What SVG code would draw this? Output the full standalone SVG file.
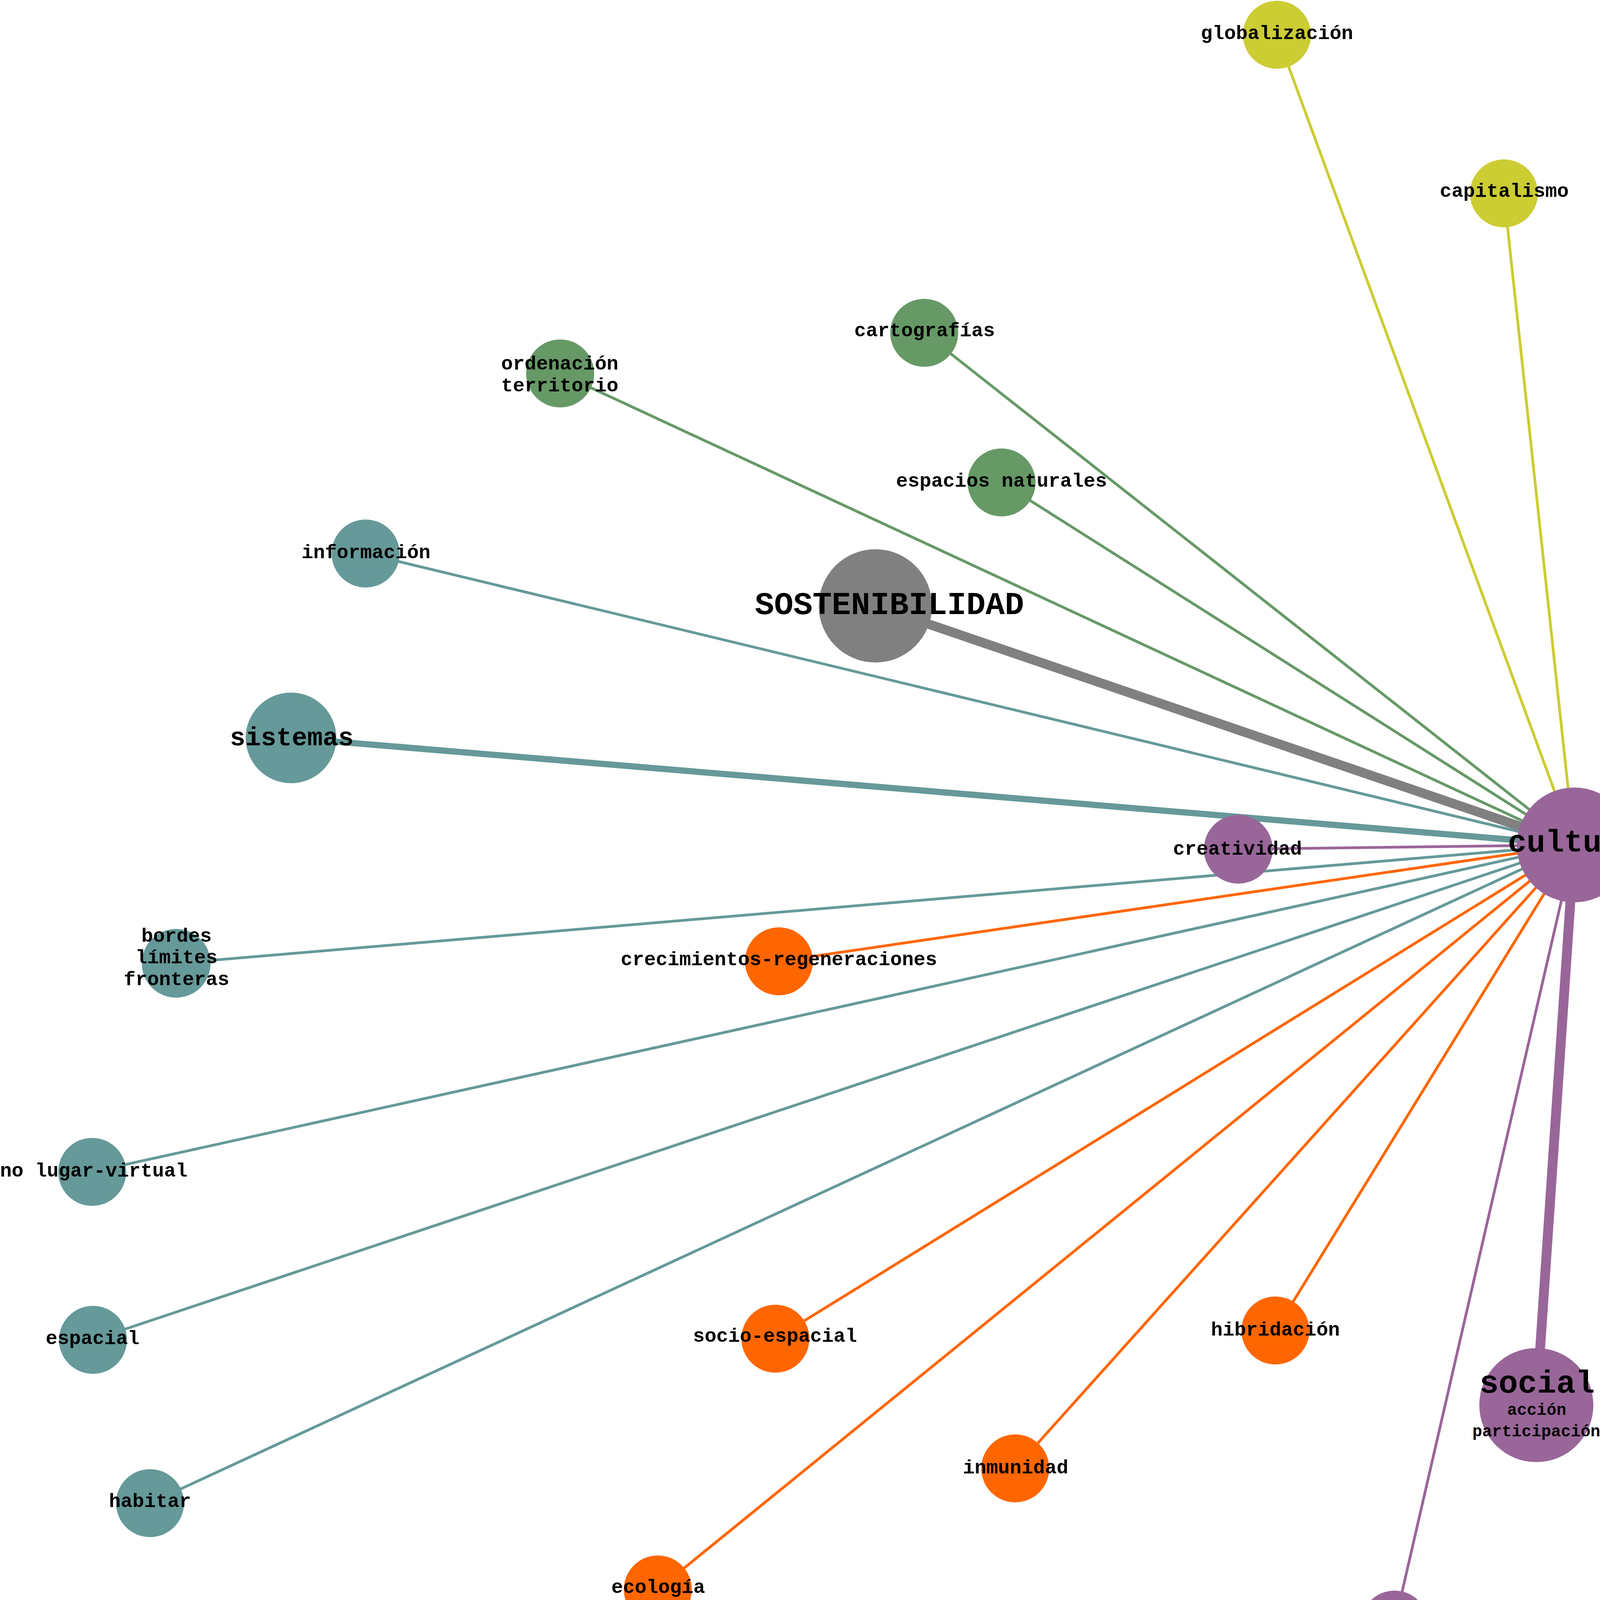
<svg xmlns="http://www.w3.org/2000/svg" width="4203" height="4249" viewBox="0 0 4203 4249">
<style>
  .bg{fill:#ffffff}
  .e{fill:none;stroke-linecap:butt}
  .thin{stroke-width:7}
  .purple{fill:#996699}
  .teal{fill:#669999}
  .green{fill:#669966}
  .yellow{fill:#CCCC33}
  .orange{fill:#FF6600}
  .gray{fill:#808080}
  .sp{stroke:#996699}
  .st{stroke:#669999}
  .sg{stroke:#669966}
  .sy{stroke:#CCCC33}
  .so{stroke:#FF6600}
  .sgr{stroke:#808080}
  text{font-family:"Liberation Mono","Courier New",monospace;font-weight:bold;fill:#000000;text-anchor:middle}
  .s{font-size:50px}
  .m{font-size:66px}
  .l{font-size:82px}
  .x{font-size:42px}
</style>
<rect class="bg" x="0" y="0" width="4203" height="4249"/>
<g id="connectors">
  <line class="e thin sy" x1="3269" y1="89" x2="4030" y2="2163"/>
  <line class="e thin sy" x1="3850" y1="495" x2="4030" y2="2163"/>
  <line class="e thin sg" x1="2366" y1="852" x2="4030" y2="2163"/>
  <line class="e thin sg" x1="1434" y1="956" x2="4030" y2="2163"/>
  <line class="e thin sg" x1="2564" y1="1235" x2="4030" y2="2163"/>
  <line class="e thin st" x1="936" y1="1417" x2="4030" y2="2163"/>
  <line class="e sgr" stroke-width="24" x1="2241" y1="1551" x2="4030" y2="2163"/>
  <line class="e st" stroke-width="16" x1="745" y1="1889" x2="4030" y2="2163"/>
  <line class="e thin sp" x1="3170" y1="2174" x2="4030" y2="2163"/>
  <line class="e thin st" x1="451" y1="2466" x2="4030" y2="2163"/>
  <line class="e thin so" x1="1994" y1="2461" x2="4030" y2="2163"/>
  <line class="e thin st" x1="236" y1="3000" x2="4030" y2="2163"/>
  <line class="e thin st" x1="238" y1="3430" x2="4030" y2="2163"/>
  <line class="e thin st" x1="384" y1="3848" x2="4030" y2="2163"/>
  <line class="e thin so" x1="1985" y1="3427" x2="4030" y2="2163"/>
  <line class="e thin so" x1="1684" y1="4069" x2="4030" y2="2163"/>
  <line class="e thin so" x1="2599" y1="3759" x2="4030" y2="2163"/>
  <line class="e thin so" x1="3265" y1="3406" x2="4030" y2="2163"/>
  <line class="e thin sp" x1="3570" y1="4159" x2="4030" y2="2163"/>
  <line class="e sp" stroke-width="25" x1="3933" y1="3597" x2="4030" y2="2163"/>
</g>
<g id="node-globalizacion"><circle class="yellow" cx="3269" cy="89" r="87"/><text class="s" x="3269" y="100">globalización</text></g>
<g id="node-capitalismo"><circle class="yellow" cx="3850" cy="495" r="87"/><text class="s" x="3851" y="504">capitalismo</text></g>
<g id="node-cartografias"><circle class="green" cx="2366" cy="852" r="87"/><text class="s" x="2367" y="861">cartografías</text></g>
<g id="node-ordenacion"><circle class="green" cx="1434" cy="956" r="87"/><text class="s" x="1433" y="946">ordenación</text><text class="s" x="1433" y="1002">territorio</text></g>
<g id="node-espacios-naturales"><circle class="green" cx="2564" cy="1235" r="87"/><text class="s" x="2564" y="1246">espacios naturales</text></g>
<g id="node-informacion"><circle class="teal" cx="936" cy="1417" r="87"/><text class="s" x="937" y="1429">información</text></g>
<g id="node-sostenibilidad"><circle class="gray" cx="2241" cy="1551" r="145"/><text class="l" x="2277" y="1572">SOSTENIBILIDAD</text></g>
<g id="node-sistemas"><circle class="teal" cx="745" cy="1889" r="116"/><text class="m" x="747" y="1908">sistemas</text></g>
<g id="node-creatividad"><circle class="purple" cx="3170" cy="2174" r="88"/><text class="s" x="3168" y="2188">creatividad</text></g>
<g id="node-bordes"><circle class="teal" cx="451" cy="2466" r="88"/><text class="s" x="452" y="2411">bordes</text><text class="s" x="452" y="2466">límites</text><text class="s" x="452" y="2522">fronteras</text></g>
<g id="node-crecimientos"><circle class="orange" cx="1994" cy="2461" r="87"/><text class="s" x="1994" y="2471">crecimientos-regeneraciones</text></g>
<g id="node-no-lugar"><circle class="teal" cx="236" cy="3000" r="87"/><text class="s" x="240" y="3012">no lugar-virtual</text></g>
<g id="node-espacial"><circle class="teal" cx="238" cy="3430" r="87"/><text class="s" x="237" y="3441">espacial</text></g>
<g id="node-socio-espacial"><circle class="orange" cx="1985" cy="3427" r="87"/><text class="s" x="1984" y="3435">socio-espacial</text></g>
<g id="node-hibridacion"><circle class="orange" cx="3265" cy="3406" r="87"/><text class="s" x="3265" y="3419">hibridación</text></g>
<g id="node-inmunidad"><circle class="orange" cx="2599" cy="3759" r="87"/><text class="s" x="2600" y="3772">inmunidad</text></g>
<g id="node-habitar"><circle class="teal" cx="384" cy="3848" r="87"/><text class="s" x="384" y="3858">habitar</text></g>
<g id="node-ecologia"><circle class="orange" cx="1684" cy="4069" r="87"/><text class="s" x="1685" y="4078">ecología</text></g>
<g id="node-identidad"><circle class="purple" cx="3570" cy="4159" r="87"/><text class="s" x="3571" y="4173">identidad</text></g>
<g id="node-social"><circle class="purple" cx="3933" cy="3597" r="146"/><text class="l" x="3935" y="3565">social</text><text class="x" x="3934" y="3622">acción</text><text class="x" x="3933" y="3677">participación</text></g>
<g id="node-cultura"><circle class="purple" cx="4030" cy="2163" r="147"/><text style="font-size:80px" x="4028" y="2180">cultura</text></g>
</svg>
